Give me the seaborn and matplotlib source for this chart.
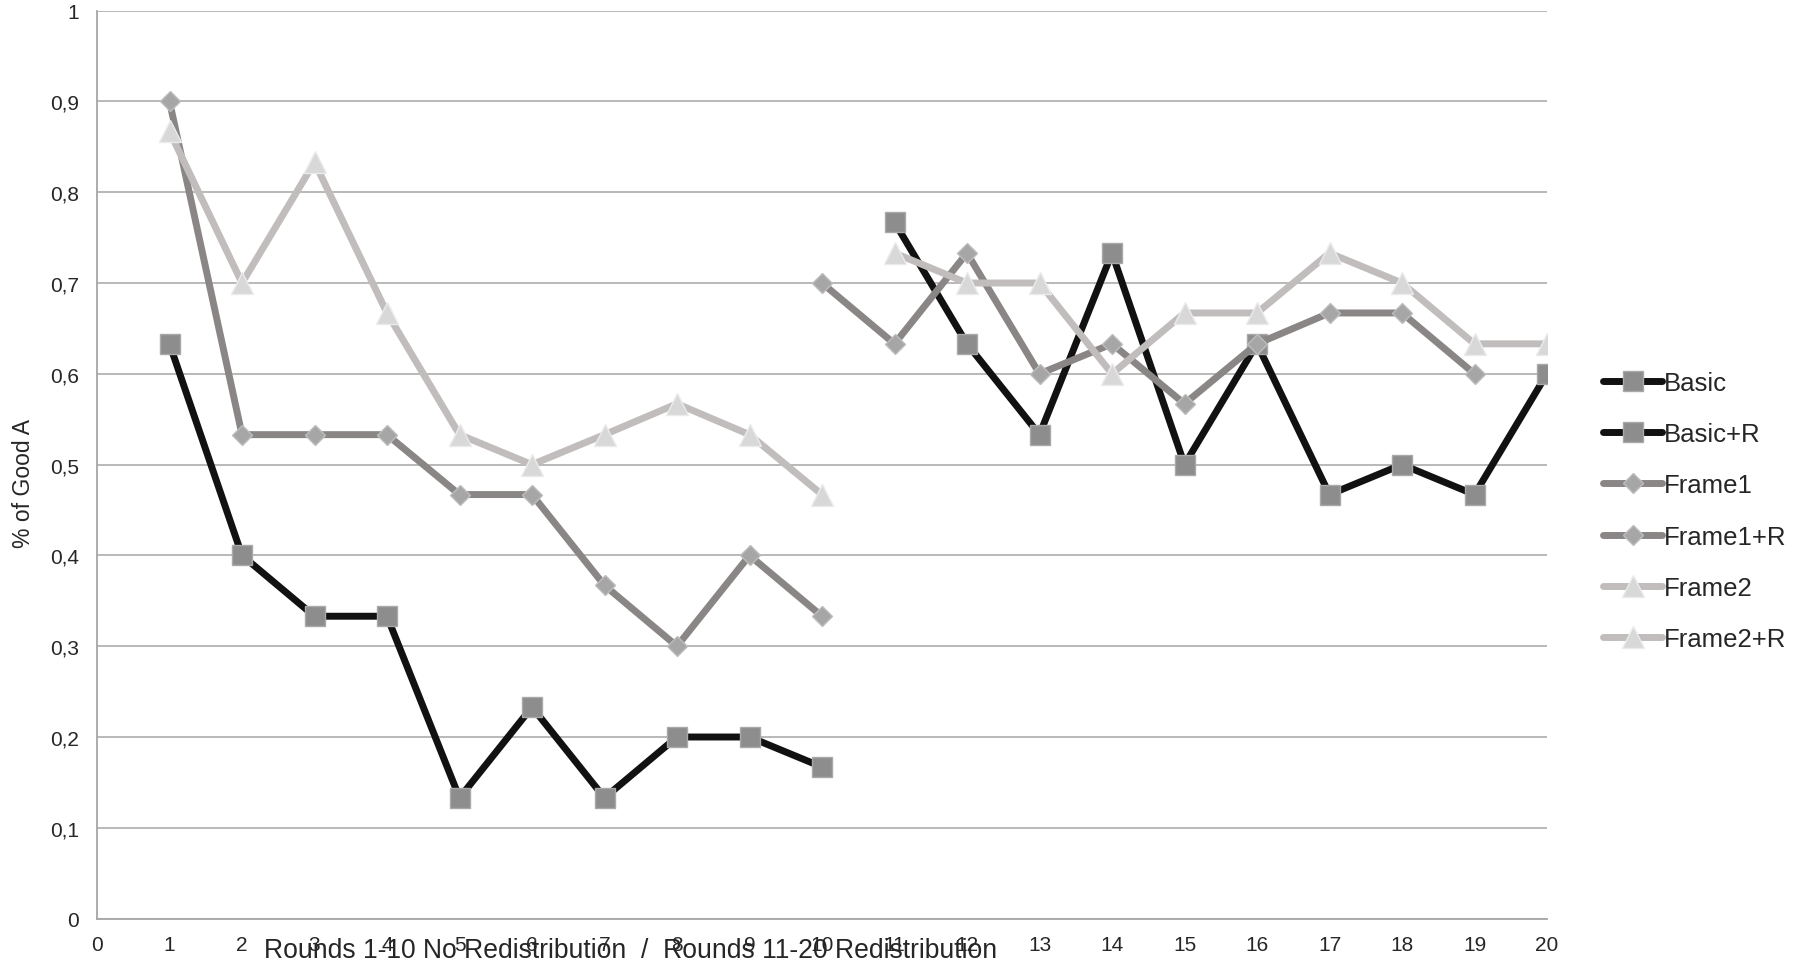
import numpy as np
import pandas as pd
import matplotlib
matplotlib.use("Agg")
import matplotlib.pyplot as plt
import seaborn as sns

# Share of "Good A" choices per round
rounds_1_10 = list(range(1, 11))
rounds_11_20 = list(range(11, 21))
rounds_frame1_r = list(range(10, 20))

basic = [0.633, 0.400, 0.333, 0.333, 0.133, 0.233, 0.133, 0.200, 0.200, 0.167]
basic_r = [0.767, 0.633, 0.533, 0.733, 0.500, 0.633, 0.467, 0.500, 0.467, 0.600]
frame1 = [0.900, 0.533, 0.533, 0.533, 0.467, 0.467, 0.367, 0.300, 0.400, 0.333]
frame1_r = [0.700, 0.633, 0.733, 0.600, 0.633, 0.567, 0.633, 0.667, 0.667, 0.600]
frame2 = [0.867, 0.700, 0.833, 0.667, 0.533, 0.500, 0.533, 0.567, 0.533, 0.467]
frame2_r = [0.733, 0.700, 0.700, 0.600, 0.667, 0.667, 0.733, 0.700, 0.633, 0.633]

series_names = ["Basic", "Basic+R", "Frame1", "Frame1+R", "Frame2", "Frame2+R"]
x_ticks = list(range(0, 21))
y_ticks = [0, 0.1, 0.2, 0.3, 0.4, 0.5, 0.6, 0.7, 0.8, 0.9, 1.0]
y_tick_labels = ["0", "0,1", "0,2", "0,3", "0,4", "0,5", "0,6", "0,7", "0,8", "0,9", "1"]

sns.set_style("white")
plt.rcParams["font.family"] = ["Liberation Sans", "DejaVu Sans"]

fig = plt.figure(figsize=(18.16, 9.62), dpi=100)
ax = fig.add_axes([97 / 1816, 1 - 919.6 / 962, 1450 / 1816, 908 / 962])

styles = {
    "Basic": dict(color="#111111", marker="s", markersize=14.5,
                  markerfacecolor="#8d8d8d", markeredgecolor="#a9a9a9"),
    "Frame1": dict(color="#8a8685", marker="D", markersize=10.5,
                   markerfacecolor="#a6a6a6", markeredgecolor="#bdbdbd"),
    "Frame2": dict(color="#c1bdbc", marker="^", markersize=16,
                   markerfacecolor="#d8d8d8", markeredgecolor="#ebebeb"),
}

plot_sets = [
    ("Basic", rounds_1_10, basic, "Basic"),
    ("Basic+R", rounds_11_20, basic_r, "Basic"),
    ("Frame1", rounds_1_10, frame1, "Frame1"),
    ("Frame1+R", rounds_frame1_r, frame1_r, "Frame1"),
    ("Frame2", rounds_1_10, frame2, "Frame2"),
    ("Frame2+R", rounds_11_20, frame2_r, "Frame2"),
]

for name, xs, ys, group in plot_sets:
    df = pd.DataFrame({"round": xs, "share": ys})
    sns.lineplot(data=df, x="round", y="share", ax=ax, label=name,
                 linewidth=5.0, markeredgewidth=1.0, solid_joinstyle="round",
                 solid_capstyle="round", **styles[group])

ax.set_xlim(0, 20)
ax.set_ylim(0, 1)
ax.set_xticks(x_ticks)
ax.set_xticklabels([str(t) for t in x_ticks], fontsize=15)
ax.set_yticks(y_ticks)
ax.set_yticklabels(y_tick_labels, fontsize=15)
ax.tick_params(axis="x", length=0, pad=12)
ax.tick_params(axis="y", length=0, pad=13)

ax.yaxis.grid(True, color="#b3b3b3", linewidth=1.3)
ax.xaxis.grid(False)
ax.set_axisbelow(True)
for side in ["top", "right"]:
    ax.spines[side].set_visible(False)
for side in ["left", "bottom"]:
    ax.spines[side].set_color("#a6a6a6")
    ax.spines[side].set_linewidth(1.3)

ax.set_xlabel("Rounds 1-10 No Redistribution  /  Rounds 11-20 Redistribution", fontsize=19.1)
ax.xaxis.set_label_coords(0.368, -0.0423)
ax.xaxis.label.set_va("baseline")
ax.set_ylabel("% of Good A", fontsize=16.5)
ax.yaxis.set_label_coords(-0.051, 0.48)
ax.yaxis.label.set_va("center")

handles, labels = ax.get_legend_handles_labels()
ax.legend(handles, labels, loc="center left", bbox_to_anchor=(1603 / 1816, 1 - 512 / 962),
          bbox_transform=fig.transFigure, frameon=False, fontsize=18.5,
          handlelength=2.3, handletextpad=0.05, labelspacing=1.06, borderpad=0,
          borderaxespad=0)

fig.savefig("out.png", dpi=100)
